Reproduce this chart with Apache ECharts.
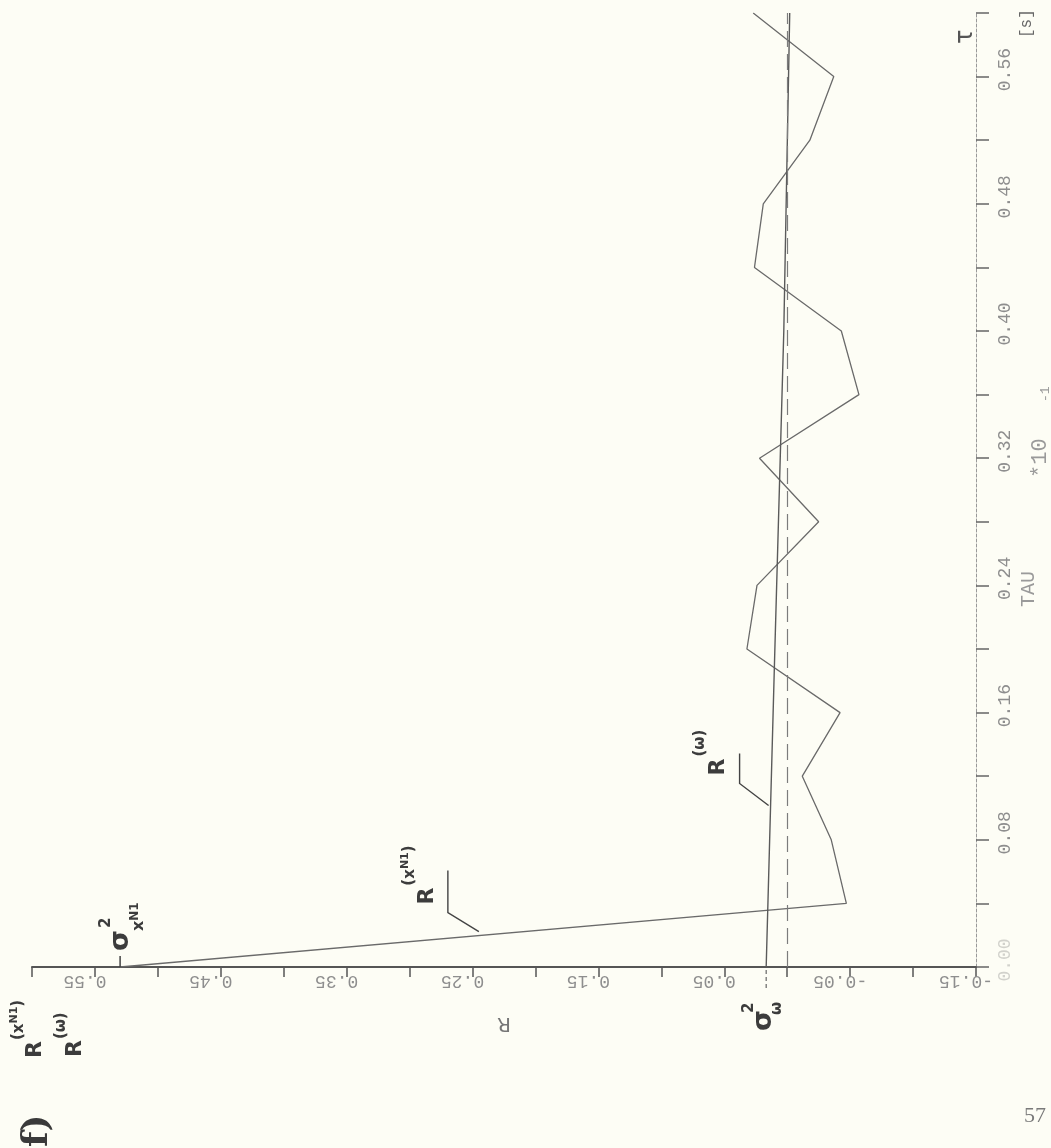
<!DOCTYPE html>
<html>
<head>
<meta charset="utf-8">
<script src="https://cdn.jsdelivr.net/npm/echarts@6/dist/echarts.min.js"></script>
<style>
  html, body { margin: 0; padding: 0; background: #fdfdf5; }
  #chart { width: 1051px; height: 1148px; }
</style>
</head>
<body>
<div id="chart"></div>
<script>
// Lag values tau (axis in units of 10^-1 s) and estimated correlation functions
const tauSamples = [0.00, 0.04, 0.08, 0.12, 0.16, 0.20, 0.24, 0.28, 0.32, 0.36, 0.40, 0.44, 0.48, 0.52, 0.56, 0.60];
const rXN1 = [0.530, -0.047, -0.035, -0.012, -0.042, 0.032, 0.024, -0.025, 0.022, -0.057, -0.043, 0.026, 0.019, -0.018, -0.037, 0.027];
const tauOmega = [0.00, 0.20, 0.40, 0.60];
const rOmega = [0.0167, 0.0098, 0.0027, -0.002];
const zeroLevel = 0;
const rTickLabels = ['0.55', '0.45', '0.35', '0.25', '0.15', '0.05', '-0.05', '-0.15'];
const tauTickLabels = ['0.00', '0.08', '0.16', '0.24', '0.32', '0.40', '0.48', '0.56'];

const INK = '#3c3c3c';
const PLOT = '#6a6a6a';
const FAINT = '#8e8e8e';
const MONO = '"Liberation Mono", "DejaVu Sans Mono", monospace';
const SANS = '"DejaVu Sans", "Liberation Sans", sans-serif';

function pickLabel(list, v) {
  for (const s of list) if (Math.abs(parseFloat(s) - v) < 1e-6) return s;
  return '';
}

const chart = echarts.init(document.getElementById('chart'), null, { renderer: 'canvas' });

chart.setOption({
  backgroundColor: '#fdfdf5',
  animation: false,
  grid: { left: 32, right: 75, top: 13, bottom: 181, outerBoundsMode: 'none', containLabel: false },
  xAxis: {
    type: 'value',
    inverse: true,
    min: -0.15, max: 0.60, interval: 0.05,
    position: 'bottom',
    splitLine: { show: false },
    axisLine: { show: true, onZero: false, lineStyle: { color: '#555', width: 2 } },
    axisTick: { show: true, inside: false, length: 10, lineStyle: { color: '#555', width: 1.5 } },
    axisLabel: {
      rotate: 180, margin: 5,
      color: FAINT, fontFamily: MONO, fontSize: 18,
      padding: [0, 0, 0, 20],
      formatter: v => pickLabel(rTickLabels, v)
    },
    name: 'R', nameLocation: 'middle', nameRotate: 180, nameGap: 46,
    nameTextStyle: { color: '#777', fontFamily: SANS, fontSize: 20 }
  },
  yAxis: {
    type: 'value',
    position: 'right',
    min: 0, max: 0.60, interval: 0.04,
    splitLine: { show: false },
    axisLine: { show: true, onZero: false, lineStyle: { color: '#999', width: 1, type: [3, 2] } },
    axisTick: { show: true, inside: false, length: 13, lineStyle: { color: '#666', width: 1.5 } },
    axisLabel: {
      rotate: 90, margin: 20,
      color: FAINT, fontFamily: MONO, fontSize: 18,
      padding: [0, 0, 0, 14],
      formatter: v => {
        const s = pickLabel(tauTickLabels, v);
        return s === '0.00' ? '{z|' + s + '}' : s;
      },
      rich: { z: { color: '#d2d2cc', fontFamily: MONO, fontSize: 18 } }
    }
  },
  series: [
    {
      name: 'R(xN1)',
      type: 'line',
      data: tauSamples.map((t, i) => [rXN1[i], t]),
      symbol: 'none',
      lineStyle: { color: PLOT, width: 1.3 },
      z: 3,
      markLine: {
        silent: true, symbol: 'none',
        label: { show: false },
        lineStyle: { type: [16, 7], color: '#7c7c7c', width: 1.2 },
        data: [{ xAxis: zeroLevel }]
      }
    },
    {
      name: 'R(omega)',
      type: 'line',
      data: tauOmega.map((t, i) => [rOmega[i], t]),
      symbol: 'none',
      lineStyle: { color: '#5a5a5a', width: 1.4 },
      z: 4
    }
  ]
});

// ---- annotations -------------------------------------------------------
const ctx = document.createElement('canvas').getContext('2d');
function textWidth(t, size, weight, family) {
  ctx.font = `${weight} ${size}px ${family}`;
  return ctx.measureText(t).width;
}
// Text reading upward (rotated 90° counter-clockwise); x0 is the glyph centre line,
// y0 the starting point. dv shifts a part sideways (negative = raised).
function rotText(x0, y0, parts, base) {
  const out = [];
  let u = 0;
  parts.forEach(p => {
    const o = Object.assign({ size: 20, weight: 'normal', family: SANS, color: INK, dv: 0, gap: 0 }, base || {}, p);
    u += o.gap;
    out.push({
      type: 'text', x: x0 + o.dv, y: y0 - u, rotation: Math.PI / 2, silent: true, z: 10,
      style: {
        text: o.t, fontSize: o.size, fontWeight: o.weight, fontFamily: o.family,
        fill: o.color, align: 'left', verticalAlign: 'middle'
      }
    });
    u += textWidth(o.t, o.size, o.weight, o.family);
  });
  return out;
}
function px(pt) { return chart.convertToPixel({ seriesIndex: 0 }, pt); }
function lerp(a, b, f) { return [a[0] + (b[0] - a[0]) * f, a[1] + (b[1] - a[1]) * f]; }

const g = [];
const seg = { type: 'polyline', silent: true, z: 9, style: { stroke: '#444', lineWidth: 1.4, fill: null } };

// sigma^2_xN1 : start value of R(xN1) at tau = 0
const A = px([rXN1[0], tauSamples[0]]);
g.push({ type: 'line', silent: true, z: 9, shape: { x1: A[0], y1: A[1], x2: A[0], y2: A[1] - 11 }, style: { stroke: '#444', lineWidth: 1.5 } });
g.push(...rotText(A[0] + 1, A[1] - 16, [{ t: 'σ', size: 27, weight: 'bold' }]));
g.push(...rotText(A[0] - 14, A[1] - 39, [{ t: '2', size: 15, weight: 'bold' }]));
g.push(...rotText(A[0] + 19, A[1] - 36, [{ t: 'x', size: 16, weight: 'bold' }, { t: 'N1', size: 12, weight: 'bold', dv: -4 }]));

// R(xN1) with leader to the descending branch
const P = lerp(px([rXN1[0], tauSamples[0]]), px([rXN1[1], tauSamples[1]]), 0.494);
g.push(Object.assign({}, seg, { shape: { points: [[P[0], P[1] - 4], [P[0] - 31, P[1] - 23], [P[0] - 31, P[1] - 65]] } }));
g.push(...rotText(P[0] - 52, P[1] - 31, [
  { t: 'R', size: 22, weight: 'bold' },
  { t: '(', size: 15, weight: 'bold', dv: -18, gap: 2 },
  { t: 'x', size: 15, weight: 'bold', dv: -17 },
  { t: 'N1', size: 11, weight: 'bold', dv: -22 },
  { t: ')', size: 15, weight: 'bold', dv: -18 }
]));

// R(omega) with leader to its line
const Q = lerp(px([rOmega[0], tauOmega[0]]), px([rOmega[1], tauOmega[1]]), 0.508);
g.push(Object.assign({}, seg, { shape: { points: [[Q[0] - 2, Q[1]], [Q[0] - 31, Q[1] - 22], [Q[0] - 31, Q[1] - 52]] } }));
g.push(...rotText(Q[0] - 52, Q[1] - 30, [
  { t: 'R', size: 22, weight: 'bold' },
  { t: '(ω)', size: 15, weight: 'bold', dv: -18, gap: 2 }
]));

// sigma^2_omega below the R axis, at the start value of R(omega)
const B = px([rOmega[0], tauOmega[0]]);
g.push({ type: 'line', silent: true, z: 9, shape: { x1: B[0], y1: B[1] + 3, x2: B[0], y2: B[1] + 24 }, style: { stroke: '#666', lineWidth: 1.2, lineDash: [4, 3] } });
g.push(...rotText(B[0] - 2, B[1] + 64, [{ t: 'σ', size: 27, weight: 'bold' }]));
g.push(...rotText(B[0] - 17, B[1] + 46, [{ t: '2', size: 15, weight: 'bold' }]));
g.push(...rotText(B[0] + 11, B[1] + 48, [{ t: 'ω', size: 15, weight: 'bold' }]));

// axis captions at lower left
g.push(...rotText(35, 1058, [
  { t: 'R', size: 22, weight: 'bold' },
  { t: '(', size: 15, weight: 'bold', dv: -17, gap: 1 },
  { t: 'x', size: 15, weight: 'bold', dv: -16 },
  { t: 'N1', size: 11, weight: 'bold', dv: -21 },
  { t: ')', size: 15, weight: 'bold', dv: -17 }
]));
g.push(...rotText(75, 1057, [
  { t: 'R', size: 22, weight: 'bold' },
  { t: '(ω)', size: 15, weight: 'bold', dv: -14, gap: 1 }
]));

// tau axis captions
const T0 = px([-0.15, 0.60]);
g.push(...rotText(T0[0] - 10, 44, [{ t: 'τ', size: 24, color: '#555' }]));
g.push(...rotText(1027, 38, [{ t: '[s]', size: 16, family: MONO, color: '#666' }]));
g.push(...rotText(1029, 607, [{ t: 'TAU', size: 20, family: MONO, color: '#9a9a9a' }]));
g.push(...rotText(1040, 478, [{ t: '*10', size: 22, family: MONO, color: '#9a9a9a' }]));
g.push(...rotText(1046, 402, [{ t: '-1', size: 13, family: MONO, color: '#9a9a9a' }]));

// page marks
g.push(...rotText(38, 1147, [{ t: 'f)', size: 36, weight: 'bold', family: '"DejaVu Serif", serif', color: '#3a3a3a' }]));
g.push({ type: 'text', x: 1024, y: 1116, silent: true, style: { text: '57', fontSize: 22, fontFamily: '"Liberation Serif", serif', fill: '#7a7a7a', align: 'left', verticalAlign: 'middle' } });

chart.setOption({ graphic: { elements: g } });
</script>
</body>
</html>
